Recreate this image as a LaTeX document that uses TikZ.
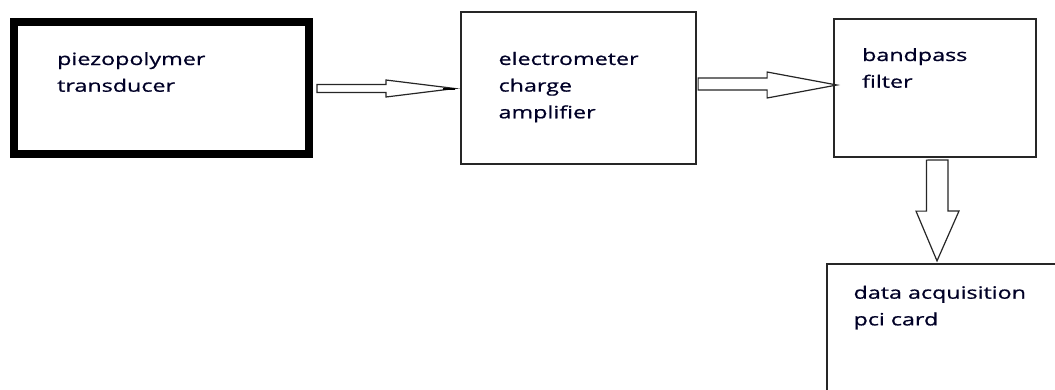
\documentclass[tikz,border=0pt]{standalone}
\usepackage{fontspec}
\setmainfont[FakeStretch=1.37,FakeBold=0.8]{Open Sans}
\usepackage{tikz}
\usetikzlibrary{calc,positioning}

\begin{document}
\begin{tikzpicture}[x=1pt, y=-1pt,
    box/.style={draw=black!85, line width=1.2pt, inner sep=0pt},
    thickbox/.style={draw=black, line width=8pt, inner sep=0pt},
    txt/.style={align=left, inner sep=0pt, text=black!85!blue,
      font=\fontsize{17}{26.7}\selectfont},
    blk/.style={draw=black!85, line width=1.2pt, fill=white, line join=miter}]
  \path[use as bounding box, clip] (0,0) rectangle (1055,389);
  % blocks
  \node[thickbox, minimum width=295pt, minimum height=132pt] (tr) at (161.5,88) {};
  \node[box, minimum width=235pt, minimum height=152pt] (amp) at (578.5,88) {};
  \node[box, minimum width=202pt, minimum height=138pt] (fil) at (935,88) {};
  \node[box, minimum width=270pt, minimum height=160pt] (dac) at (962,344) {};
  % block texts (base = last line)
  \node[txt, anchor=base west] (tr-txt) at ($(tr.north west)+(47,73.7)$)
    {piezopolymer\\transducer};
  \node[txt, anchor=base west] (amp-txt) at ($(amp.north west)+(38,106.9)$)
    {electrometer\\charge\\amplifier};
  \node[txt, anchor=base west] (fil-txt) at ($(fil.north west)+(28.5,69.3)$)
    {bandpass\\filter};
  \node[txt, anchor=base west] (dac-txt) at ($(dac.north west)+(27,62)$)
    {data acquisition\\pci card};
  % hollow block arrows
  \draw[blk] ($(tr.east)+(4,-3.5)$) -- ++(69,0) -- ++(0,-4.5)
    -- ($(amp.west)+(-5.5,0.5)$) -- ($(tr.east)+(73,9)$) -- ++(0,-4.5)
    -- ++(-69,0) -- cycle;
  \draw[black, line width=2pt] ($(amp.west)+(-17,0.5)$) -- ($(amp.west)+(-5.5,0.5)$);
  \draw[blk] ($(amp.east)+(1.5,-10)$) -- ++(69,0) -- ++(0,-6)
    -- ($(fil.west)+(3.5,-3)$) -- ($(amp.east)+(70.5,10)$) -- ++(0,-8)
    -- ++(-69,0) -- cycle;
  \draw[blk] ($(fil.south)+(-8.5,2.5)$) -- ++(0,51) -- ++(-10.5,0)
    -- ($(fil.south |- dac.north)+(2,-2.5)$) -- ($(fil.south)+(24,53.4)$)
    -- ++(-11,0) -- ++(0,-51) -- cycle;
\end{tikzpicture}
\end{document}
